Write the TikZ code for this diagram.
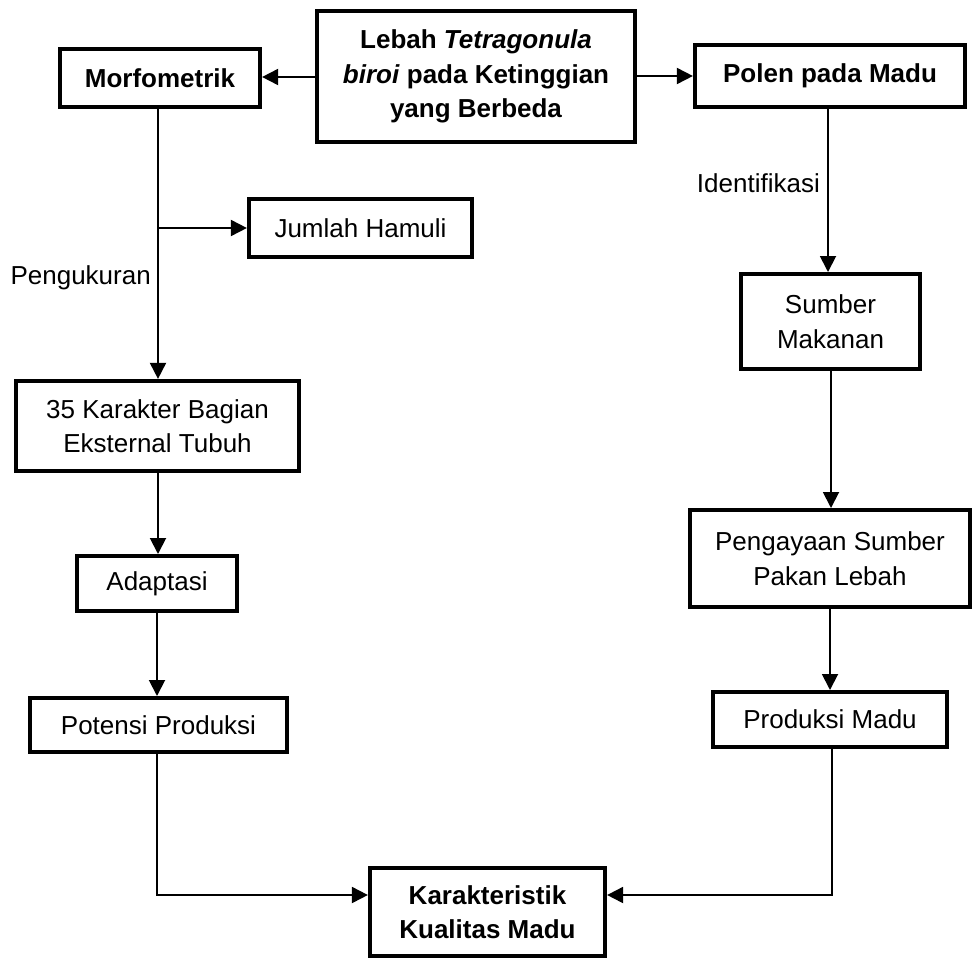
\documentclass[tikz,border=0pt]{standalone}
\usepackage{fontspec}
\setmainfont{Liberation Sans}
\usetikzlibrary{arrows.meta}
\tikzset{
  box/.style={draw=black, line width=4.2pt, inner sep=0pt, align=center,
    font=\fontsize{26}{34.5}\selectfont},
  boldbox/.style={box, font=\fontsize{26}{34.5}\selectfont\bfseries},
  lbl/.style={inner sep=0pt, font=\fontsize{26}{34.5}\selectfont},
  arr/.style={line width=1.9pt, -{Triangle[length=16pt,width=16pt]}},
  ln/.style={line width=1.9pt}
}
\begin{document}
\begin{tikzpicture}[x=1pt,y=-1pt]
\useasboundingbox (0,0) rectangle (974,961);
\node[boldbox, minimum width=318, minimum height=131] (top) at (476,76.5)
  {Lebah \textit{Tetragonula}\\ \textit{biroi} pada Ketinggian\\ yang Berbeda};
\node[boldbox, minimum width=200, minimum height=58] (morf) at (160,78) {Morfometrik};
\node[boldbox, minimum width=270, minimum height=62] (polen) at (830,76) {Polen pada Madu};
\node[box, minimum width=223, minimum height=58] (hamuli) at (360.5,228) {Jumlah Hamuli};
\node[box, minimum width=283, minimum height=90] (kar) at (157.5,426) {35 Karakter Bagian\\ Eksternal Tubuh};
\node[box, minimum width=160, minimum height=55] (adapt) at (157,583.5) {Adaptasi};
\node[box, minimum width=257, minimum height=54] (pot) at (158.5,725) {Potensi Produksi};
\node[box, minimum width=179, minimum height=95] (sumber) at (830.5,321.5) {Sumber\\ Makanan};
\node[box, minimum width=280, minimum height=97] (peng) at (830,558.5) {Pengayaan Sumber\\ Pakan Lebah};
\node[box, minimum width=234, minimum height=55] (prod) at (830,719.5) {Produksi Madu};
\node[boldbox, minimum width=235, minimum height=88] (kq) at (487.5,912) {Karakteristik\\ Kualitas Madu};

\node[lbl, anchor=east] (peng lbl) at (151,278) {Pengukuran};
\node[lbl, anchor=east] (ident lbl) at (820,183) {Identifikasi};

\draw[arr] (top.west |- 0,77) -- (morf.east |- 0,77);
\draw[arr] (top.east |- 0,76) -- (polen.west |- 0,76);

\coordinate (mtop) at (158,109);
\coordinate (branch) at (158,228);
\draw[arr] (mtop) -- (mtop |- kar.north);
\draw[arr] (branch) -- (hamuli.west);
\draw[arr] (158,473) -- (158,554);
\draw[arr] (157,613) -- (157,696);
\coordinate (kqw) at ([yshift=17]kq.west);
\coordinate (kqe) at ([yshift=17]kq.east);
\draw[arr] (157,754) |- (kqw);

\draw[arr] (828,109) -- (828,272);
\draw[arr] (831,371) -- (831,508);
\draw[arr] (830,609) -- (830,690);
\draw[arr] (832,749) |- (kqe);
\end{tikzpicture}
\end{document}
